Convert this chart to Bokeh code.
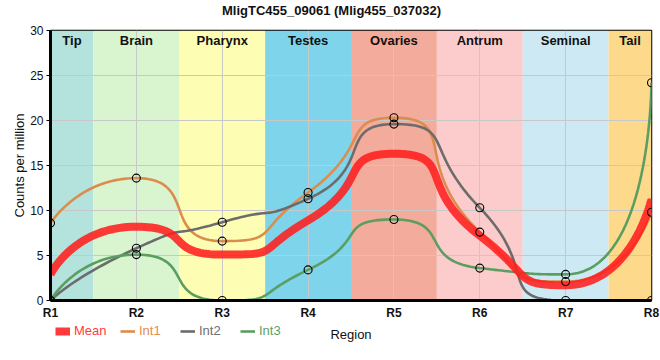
import math
import numpy as np
from bokeh.plotting import figure
from bokeh.layouts import column
from bokeh.models import (ColumnDataSource, Legend, LegendItem, FixedTicker, Range1d, Label)
from bokeh.core.properties import value
from bokeh.embed import file_html
from bokeh.resources import INLINE

# ---------------- data ----------------
regions = ["R1", "R2", "R3", "R4", "R5", "R6", "R7", "R8"]
positions = [1, 2, 3, 4, 5, 6, 7, 8]
tissues = ["Tip", "Brain", "Pharynx", "Testes", "Ovaries", "Antrum", "Seminal", "Tail"]
tissue_colors = ["#b4e2dc", "#d8f5d0", "#fdfdb4", "#7dd4eb", "#f3ab9c", "#fccbcb", "#cdeaf4", "#fdda8b"]

mean = [2.9, 8.2, 5.1, 8.9, 16.3, 7.2, 1.7, 11.3]
int1 = [8.6, 13.6, 6.6, 12.0, 20.3, 7.6, 2.1, 9.8]
int2 = [0.0, 5.8, 8.7, 11.3, 19.6, 10.3, 0.0, 0.0]
int3 = [0.0, 5.1, 0.0, 3.4, 9.0, 3.6, 2.9, 24.2]

series_names = ["Mean", "Int1", "Int2", "Int3"]
series_colors = ["#ff1f1f", "#dc8d4e", "#6c6c6c", "#5c9e61"]
legend_text_colors = ["#ff3c3c", "#e08d52", "#707070", "#5fa064"]

title_text = "MligTC455_09061 (Mlig455_037032)"
x_label = "Region"
y_label = "Counts per million"
FONT = "Liberation Sans"

FRAME_W, FRAME_H = 601, 270
X0, X1, Y0, Y1 = 1, 8, 0, 30


# smoothing of the drawn path (bezier through the data points, computed in pixel space)
def smooth_path(xs, ys, smooth=0.7, n=40):
    sx = FRAME_W / (X1 - X0)
    sy = FRAME_H / (Y1 - Y0)
    P = [(x * sx, y * sy) for x, y in zip(xs, ys)]
    m = len(P)
    ox, oy = [P[0][0]], [P[0][1]]
    cp0 = P[0]
    for i in range(1, m):
        x, y = P[i]
        px, py = P[i - 1]
        if i == m - 1:
            cp1 = (x, y)
            ncp0 = None
        else:
            nx, ny = P[i + 1]
            vx, vy = nx - px, ny - py
            lp = math.hypot(x - px, y - py)
            ln = math.hypot(nx - x, ny - y)
            r = ln / (ln + lp)
            ncx = x + vx * smooth * r
            ncy = y + vy * smooth * r
            ncx = max(min(ncx, max(nx, x)), min(nx, x))
            ncy = max(min(ncy, max(ny, y)), min(ny, y))
            vx, vy = ncx - x, ncy - y
            c1x = x - vx * lp / ln
            c1y = y - vy * lp / ln
            c1x = max(min(c1x, max(px, x)), min(px, x))
            c1y = max(min(c1y, max(py, y)), min(py, y))
            vx, vy = x - c1x, y - c1y
            ncp0 = (x + vx * ln / lp, y + vy * ln / lp)
            cp1 = (c1x, c1y)
        u = np.linspace(0, 1, n)[1:]
        a, b, c, d = (1 - u) ** 3, 3 * (1 - u) ** 2 * u, 3 * (1 - u) * u ** 2, u ** 3
        ox.extend(a * px + b * cp0[0] + c * cp1[0] + d * x)
        oy.extend(a * py + b * cp0[1] + c * cp1[1] + d * y)
        cp0 = ncp0
    return [v / sx for v in ox], [v / sy for v in oy]


def strip(height):
    f = figure(frame_width=FRAME_W, frame_height=height, output_backend="svg", toolbar_location=None,
               x_range=Range1d(0, FRAME_W), y_range=Range1d(0, height),
               x_axis_type=None, y_axis_type=None,
               min_border_left=50, min_border_right=9, min_border_top=0, min_border_bottom=0)
    f.grid.visible = False
    f.outline_line_color = None
    return f


# title strip
t = strip(20)
t.add_layout(Label(x=281, y=10, text=title_text, text_align="center", text_baseline="middle",
                   text_font=FONT, text_font_size="13px", text_font_style="bold",
                   text_color="#111111"))

p = figure(frame_width=FRAME_W, frame_height=FRAME_H, output_backend="svg", toolbar_location=None,
           x_range=Range1d(X0, X1), y_range=Range1d(Y0, Y1),
           min_border_left=50, min_border_right=9, min_border_top=10, min_border_bottom=20,
           title=None)

# bands
lefts = [max(x - 0.5, positions[0]) for x in positions]
rights = [min(x + 0.5, positions[-1]) for x in positions]
band_src = ColumnDataSource(dict(left=lefts, right=rights, color=tissue_colors,
                                 cx=[(l + r) / 2 for l, r in zip(lefts, rights)],
                                 name=tissues))
p.quad(left="left", right="right", bottom=Y0, top=Y1, fill_color="color",
       line_color=None, source=band_src, level="image")
p.text(x="cx", y=28.9, text="name", source=band_src, text_align="center",
       text_baseline="middle", text_font=value(FONT), text_font_size="13px",
       text_font_style="bold", text_color="#111111")

renderers = {}
all_series = [mean, int1, int2, int3]
for name, vals, col in zip(series_names[1:], all_series[1:], series_colors[1:]):
    cx, cy = smooth_path(positions, vals)
    renderers[name] = p.line(cx, cy, line_color=col, line_width=2.6)
cx, cy = smooth_path(positions, mean)
renderers["Mean"] = p.line(cx, cy, line_color=series_colors[0], line_width=8,
                           line_alpha=0.88, line_cap="butt")
for vals in all_series[1:]:
    p.scatter(positions, vals, size=8, fill_color=None, line_color="black", line_width=1.1)

# axes / grid
p.xaxis.ticker = FixedTicker(ticks=positions)
p.xaxis.major_label_overrides = {x: r for x, r in zip(positions, regions)}
p.yaxis.ticker = FixedTicker(ticks=[0, 5, 10, 15, 20, 25, 30])
p.grid.grid_line_color = "#c8c8c8"
p.grid.grid_line_width = 1
p.xaxis.axis_line_width = 3
p.yaxis.axis_line_width = 3
p.axis.axis_line_color = "black"
p.xaxis.major_tick_out = 0
p.xaxis.major_tick_in = 0
p.yaxis.major_tick_out = 4
p.yaxis.major_tick_in = 0
p.axis.minor_tick_line_color = None
p.xaxis.major_label_text_font_style = "bold"
p.xaxis.major_label_text_font_size = "12px"
p.yaxis.major_label_text_font_size = "12px"
p.axis.major_label_text_font = FONT
p.axis.major_label_text_color = "#111111"
p.xaxis.major_label_standoff = 5
p.yaxis.major_label_standoff = 3
p.yaxis.axis_label = y_label
p.yaxis.axis_label_text_font = FONT
p.yaxis.axis_label_text_font_size = "13px"
p.yaxis.axis_label_text_font_style = "normal"
p.yaxis.axis_label_text_color = "#111111"
p.yaxis.axis_label_standoff = 0
p.outline_line_color = "black"
p.outline_line_width = 1.5
p.background_fill_color = "white"

# legend strip below the chart (each item its own colour)
q = strip(22)
leg_x = [5, 70, 130, 190]
for name, col, tcol, lx in zip(series_names, series_colors, legend_text_colors, leg_x):
    r = renderers[name]
    dummy = q.line([0, 0], [-10, -10], line_color=col, line_width=r.glyph.line_width,
                   line_alpha=r.glyph.line_alpha, line_cap="butt")
    lg = Legend(items=[LegendItem(label=name, renderers=[dummy])],
                location=(lx, 6), orientation="horizontal",
                glyph_width=15, glyph_height=14, label_standoff=4, padding=0, margin=0,
                spacing=0, border_line_color=None, background_fill_alpha=0,
                label_text_font=FONT, label_text_font_size="13px", label_text_color=tcol,
                label_height=14, label_text_baseline="middle")
    q.add_layout(lg, "center")
q.add_layout(Label(x=FRAME_W / 2, y=10, text=x_label, text_align="center", text_baseline="middle",
                   text_font=FONT, text_font_size="13px", text_color="#111111"))

layout = column(t, p, q, spacing=0)
open("out.html", "w").write(file_html(layout, INLINE))
